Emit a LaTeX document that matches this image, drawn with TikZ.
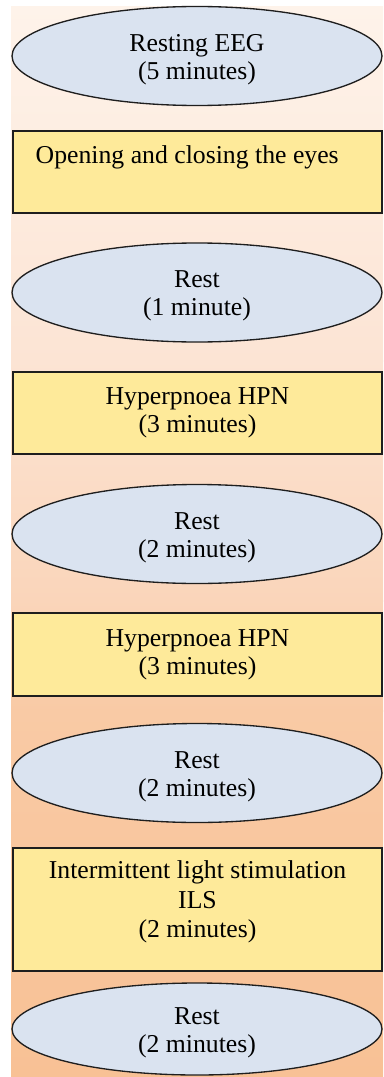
\documentclass[tikz,border=0pt]{standalone}
\usepackage{fontspec}
\setmainfont{Liberation Serif}
\usetikzlibrary{shapes.geometric}
\definecolor{ellfill}{RGB}{218,227,240}
\definecolor{boxfill}{RGB}{254,234,154}
\definecolor{edgecol}{RGB}{30,30,30}
\definecolor{bgA}{RGB}{254,243,234}
\definecolor{bgB}{RGB}{252,228,212}
\definecolor{bgC}{RGB}{250,213,186}
\definecolor{bgD}{RGB}{249,202,165}
\definecolor{bgE}{RGB}{248,193,149}
\begin{document}
\begin{tikzpicture}[x=0.75pt,y=-0.75pt,
  txt/.style={font=\fontsize{19.3}{21}\selectfont, align=center},
  stageoval/.style={ellipse, draw=edgecol, line width=1pt, fill=ellfill,
    minimum width=277.5pt, minimum height=74.25pt, inner sep=0pt, txt},
  stagebox/.style={rectangle, draw=edgecol, line width=0.9pt, fill=boxfill,
    minimum width=276.75pt, inner sep=0pt, txt},
  ovaltext/.style={label={[txt, yshift=-2.6pt]center:#1}}]
\useasboundingbox (0,0) rectangle (383,1077);
\fill[white] (0,0) rectangle (383,1077);
\shade[top color=bgA, bottom color=bgB] (11,7) rectangle (383,361);
\shade[top color=bgB, bottom color=bgC] (11,360) rectangle (383,601);
\shade[top color=bgC, bottom color=bgD] (11,600) rectangle (383,711);
\shade[top color=bgD, bottom color=bgE] (11,710) rectangle (383,1077);

\node[stageoval, ovaltext={Resting EEG\\(5 minutes)}] (e1) at (197,56) {};
\node[stagebox, minimum height=61.5pt] (b1) at (197.5,172) {};
\node[txt, anchor=base west] (t1) at (31,163) {Opening and closing the eyes};
\node[stageoval, ovaltext={Rest\\(1 minute)}] (e2) at (197,292.5) {};
\node[stagebox, minimum height=61.5pt] (b2) at (197.5,413) {Hyperpnoea HPN\\(3 minutes)};
\node[stageoval, ovaltext={Rest\\(2 minutes)}] (e3) at (197,534) {};
\node[stagebox, minimum height=62.25pt] (b3) at (197.5,654.5) {Hyperpnoea HPN\\(3 minutes)};
\node[stageoval, ovaltext={Rest\\(2 minutes)}] (e4) at (197,773) {};
\node[stagebox, minimum height=92.25pt] (b4) at (197.5,909.5) {};
\node[txt, font=\fontsize{19.3}{22.3}\selectfont] (t4) at (197.5,902) {Intermittent light stimulation\\ILS\\(2 minutes)};
\node[stageoval, minimum height=69pt, ovaltext={Rest\\(2 minutes)}] (e5) at (197,1029) {};
\end{tikzpicture}
\end{document}
